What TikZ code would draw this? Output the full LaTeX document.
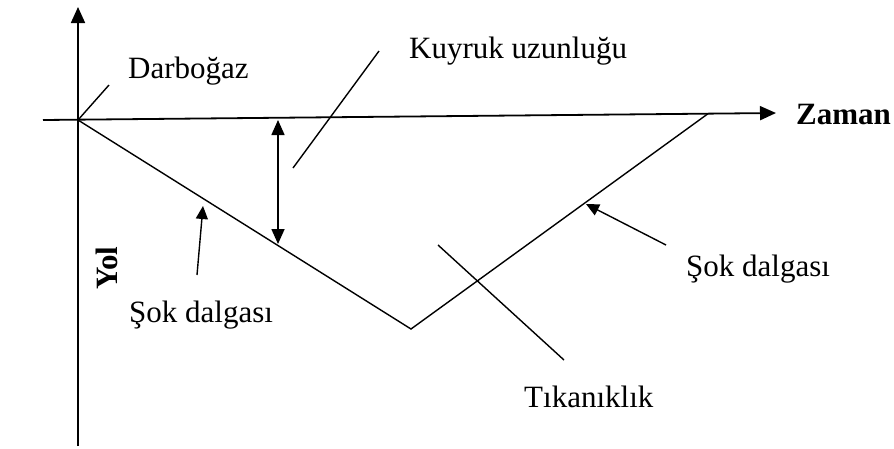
\documentclass[tikz,border=0pt]{standalone}
\usepackage{fontspec}
\setmainfont{Liberation Serif}
\usetikzlibrary{arrows.meta}
\begin{document}
\begin{tikzpicture}[x=1pt,y=-1pt,
  lbl/.style={inner sep=0pt,anchor=base west,font=\fontsize{31}{36}\selectfont},
  blbl/.style={inner sep=0pt,font=\fontsize{31}{36}\selectfont\bfseries},
  axis/.style={line width=1.8pt,-{Triangle[length=16pt,width=14pt]}},
  thin/.style={line width=1.4pt},
  dbl/.style={line width=1.6pt,{Triangle[length=15pt,width=13pt]}-{Triangle[length=15pt,width=13pt]}},
  ptr/.style={line width=1.4pt,-{Triangle[length=13pt,width=12pt]}}]
\useasboundingbox (0,0) rectangle (894,448);
% coordinates
\coordinate (ybot) at (78,446);
\coordinate (ytop) at (78,7);
\coordinate (xl) at (43,120);
\coordinate (xr) at (776,113);
\coordinate (O) at (78,120);
\coordinate (V) at (411,329);
\coordinate (R) at (708,113.7);
\coordinate (dA) at (109,85);
\coordinate (qT) at (278,120);
\coordinate (qB) at (278,244);
\coordinate (kA) at (379,51);
\coordinate (kB) at (293,168);
\coordinate (s1A) at (197,275);
\coordinate (s1B) at (203,206);
\coordinate (s2A) at (666,245);
\coordinate (s2B) at (586,204);
\coordinate (tA) at (438,245);
\coordinate (tB) at (564,360);
% axes
\draw[axis] (ybot) -- (ytop);
\draw[axis] (xl) -- (xr);
% shock waves
\draw[thin] (O) -- (V) -- (R);
% pointers
\draw[thin] (O) -- (dA);
\draw[dbl] (qT) -- (qB);
\draw[thin] (kA) -- (kB);
\draw[ptr] (s1A) -- (s1B);
\draw[ptr] (s2A) -- (s2B);
\draw[thin] (tA) -- (tB);
% labels
\node[lbl] (darbogaz) at (128,78) {Darboğaz};
\node[lbl] (kuyruk) at (409,58) {Kuyruk uzunluğu};
\node[blbl,anchor=base west] (zaman) at (796,124) {Zaman};
\node[blbl,rotate=90] (yol) at (107,268) {Yol};
\node[lbl] (sok1) at (129,322) {Şok dalgası};
\node[lbl] (sok2) at (686,276) {Şok dalgası};
\node[lbl] (tikan) at (524,407) {Tıkanıklık};
\end{tikzpicture}
\end{document}
